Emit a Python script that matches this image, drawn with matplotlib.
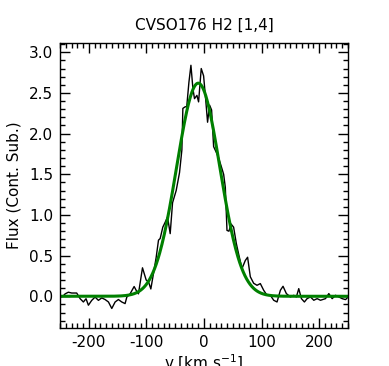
import numpy as np
import matplotlib
matplotlib.use("Agg")
import matplotlib.pyplot as plt
from matplotlib.ticker import MultipleLocator

velocity = [-250, -245, -241, -235.5, -229.7, -221, -215, -209.4, -204.8, -200.7,
            -194.9, -189.1, -183.3, -177.5, -171.7, -165.9, -160.1, -154.3, -148.6,
            -142.8, -137, -134, -128.3, -121.3, -116, -113.8, -106.8, -100.4, -96.4,
            -92.3, -87.7, -83, -79, -76.1, -71.5, -67.4, -63.3, -58.7, -54.6, -48.3,
            -42.5, -38.4, -36.7, -32.6, -30, -26.2, -22.7, -19.2, -16.5, -12.3, -9.4,
            -4.8, -0.7, 2.8, 6.2, 9.7, 13.2, 16.7, 21.3, 25.4, 29.4, 34.1, 37, 39.9,
            43.3, 46.8, 51.4, 56.1, 60.1, 65.9, 71.7, 75.7, 80.4, 86.2, 92, 97.8,
            103.6, 109.4, 115.2, 121, 126.8, 132.6, 137.2, 143, 150, 155.8, 160.4,
            164.5, 169.1, 174.3, 179, 184.8, 190.6, 196.4, 202.2, 210.9, 216.7, 222.5,
            228.3, 234.1, 239.9, 245.7, 250.3]
flux = [-0.01, 0.00, 0.03, 0.05, 0.04, 0.04, -0.03, -0.07, -0.03, -0.11,
        -0.05, -0.01, -0.05, -0.02, -0.04, -0.07, -0.15, -0.07, -0.04,
        -0.07, -0.09, -0.01, 0.03, 0.12, 0.05, 0.03, 0.35, 0.20, 0.18,
        0.09, 0.28, 0.48, 0.69, 0.71, 0.85, 0.91, 0.975, 0.77, 1.15, 1.30,
        1.52, 1.80, 2.31, 2.33, 2.33, 2.63, 2.84, 2.55, 2.43, 2.47, 2.39,
        2.80, 2.71, 2.43, 2.14, 2.35, 2.29, 1.84, 1.77, 1.70, 1.61, 1.50, 1.34, 0.81,
        0.80, 0.89, 0.85, 0.65, 0.52, 0.34, 0.44, 0.48, 0.24, 0.16, 0.135, 0.156,
        0.074, 0.012, 0.012, -0.049, -0.070, 0.074, 0.123, 0.033, -0.008, 0.012, -0.008,
        0.094, -0.029, -0.070, -0.029, -0.008, -0.049, -0.029, -0.049, -0.029, 0.033, -0.029,
        0.012, -0.008, -0.029, -0.041, -0.008]

# Gaussian fit parameters (amplitude, centre, sigma)
fit_amp = 2.62
fit_center = -10.0
fit_sigma = 37.5

title = "CVSO176 H2 [1,4]"

plt.rcParams['font.family'] = ['DejaVu Sans']
plt.rcParams['axes.unicode_minus'] = False

fig = plt.figure(figsize=(3.89, 3.66), dpi=100)
ax = fig.add_axes([60/389, 38/366, 288/389, 285.5/366])

ax.plot(velocity, flux, color='black', lw=1.0)
vfit = np.linspace(-250, 250, 501)
ffit = fit_amp * np.exp(-0.5 * ((vfit - fit_center) / fit_sigma) ** 2)
ax.plot(vfit, ffit, color='green', lw=2.2)

ax.set_xlim(-250, 250)
ax.set_ylim(-0.39, 3.12)
ax.xaxis.set_major_locator(MultipleLocator(100))
ax.xaxis.set_minor_locator(MultipleLocator(10))
ax.yaxis.set_major_locator(MultipleLocator(0.5))
ax.yaxis.set_minor_locator(MultipleLocator(0.1))
ax.tick_params(which='both', direction='in', top=True, right=True, labelsize=11)
ax.tick_params(which='major', length=7, width=1.0, pad=5)
ax.tick_params(which='minor', length=3.5, width=1.0)
ax.yaxis.set_major_formatter(matplotlib.ticker.FormatStrFormatter('%.1f'))
for s in ax.spines.values():
    s.set_linewidth(1.0)

ax.set_title(title, fontsize=11, pad=9)
ax.set_xlabel(r"v [km s$^{-1}$]", fontsize=11, labelpad=2)
ax.set_ylabel("Flux (Cont. Sub.)", fontsize=11, labelpad=5)

fig.savefig("out.png", dpi=100)
